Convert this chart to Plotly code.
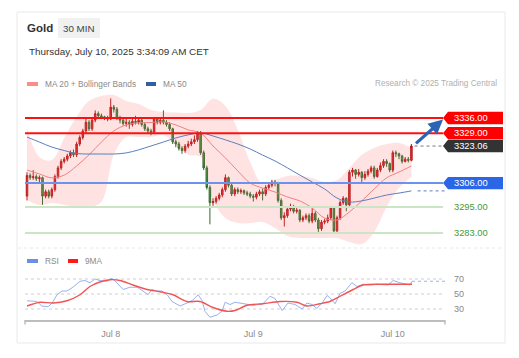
import plotly.graph_objects as go

W, H = 519, 358
OFF = 8  # default page body margin of the html page

# ---------------- data ----------------
candle_close = [
    3309.5, 3308.5, 3309, 3308, 3308.5, 3300, 3302, 3300, 3303, 3309,
    3313, 3316, 3317, 3318.5, 3320, 3319, 3324, 3327, 3330, 3334,
    3331, 3335, 3338, 3337, 3336.5, 3336, 3335.5, 3341, 3340, 3336,
    3335, 3333.5, 3334, 3333, 3334.5, 3334, 3335, 3333, 3331, 3330,
    3329.5, 3335.5, 3334, 3335, 3334, 3333, 3331, 3325, 3324, 3322,
    3321, 3323, 3324, 3325, 3326, 3329, 3320, 3313, 3304, 3297,
    3297.5, 3299, 3300.5, 3303, 3308.5, 3305, 3301, 3303, 3302, 3302.5,
    3301.5, 3301, 3300, 3299.5, 3301, 3302, 3301, 3304, 3305, 3306.5,
    3306, 3298, 3290, 3291, 3294, 3295, 3293, 3293.5, 3289, 3290,
    3291, 3288.5, 3292, 3289, 3285, 3288, 3288.5, 3290, 3294.5, 3284,
    3290, 3297, 3299, 3296, 3311, 3312, 3310, 3311, 3308.5, 3310,
    3311.5, 3313, 3309, 3312, 3314, 3316, 3315, 3312, 3320, 3319.5,
    3318.5, 3316, 3317, 3316.5, 3323.06,
]
candle_high = [
    3311, 3310.5, 3312, 3310, 3309.5, 3309, 3303, 3303, 3304, 3310,
    3314, 3317, 3318, 3319.5, 3321, 3321.5, 3325, 3328, 3331, 3336,
    3335, 3336, 3339.5, 3339, 3338, 3337, 3337, 3345, 3342, 3341,
    3337, 3336, 3335.5, 3335, 3336, 3337, 3336, 3335.5, 3334, 3332,
    3331, 3336, 3336, 3336, 3339.5, 3335, 3334, 3331.5, 3326, 3325,
    3323, 3324, 3325.5, 3326.5, 3328, 3330, 3330, 3321, 3314, 3305,
    3299, 3300, 3301.5, 3304, 3310, 3309, 3306, 3304, 3304, 3303.5,
    3303, 3302.5, 3302, 3301, 3302, 3303, 3303.5, 3305, 3306.5, 3307.5,
    3307.5, 3306.5, 3299, 3292.5, 3295, 3296.5, 3296, 3294.5, 3294, 3291,
    3292, 3292, 3295, 3293, 3290, 3289, 3289.5, 3291.5, 3295.5, 3295,
    3291, 3298, 3300, 3299.5, 3312, 3313, 3312.5, 3312.5, 3311.5, 3311.5,
    3312.5, 3314, 3314, 3313, 3315.5, 3317, 3317, 3315.5, 3321, 3321,
    3320, 3319, 3318, 3318, 3324,
]
candle_low = [
    3298, 3307.5, 3307.5, 3307, 3306.5, 3296, 3299, 3299, 3299, 3302,
    3308, 3312, 3315, 3316, 3317.5, 3318, 3318, 3323, 3326, 3329,
    3330, 3330, 3334, 3336, 3335.5, 3335, 3334.5, 3335, 3338.5, 3335,
    3333.5, 3332.5, 3332, 3331, 3332, 3333, 3333, 3332, 3330, 3329,
    3328, 3329, 3333, 3333, 3333, 3332, 3330, 3324, 3322.5, 3321,
    3319.5, 3320, 3322, 3323, 3324, 3325, 3319, 3312, 3303, 3287,
    3295.5, 3296.5, 3298, 3299.5, 3302, 3304, 3300, 3300, 3301, 3301,
    3300.5, 3300, 3299, 3297.5, 3298.5, 3300, 3298, 3300, 3303, 3304,
    3304.5, 3297, 3289, 3286, 3290, 3293, 3292, 3292, 3288, 3288,
    3289, 3287.5, 3287.5, 3288, 3283.5, 3284, 3287, 3287.5, 3289, 3283,
    3283, 3289, 3296, 3293, 3295, 3309, 3308, 3309, 3306.5, 3307.5,
    3309, 3310.5, 3308, 3308.5, 3311, 3313, 3313.5, 3311, 3311, 3318,
    3317, 3315, 3315.5, 3315.5, 3316,
]
first_open = 3300.0
candle_open = [first_open] + candle_close[:-1]
candle_idx = list(range(len(candle_close)))

# indicator samples
ind_idx = [0, 4, 8, 12, 16, 20, 24, 28, 32, 36, 40, 44, 48, 52, 56, 60,
           64, 68, 72, 76, 80, 84, 88, 92, 96, 100, 104, 108, 112, 116, 120, 124]
bb_upper = [3331.4, 3318, 3316.6, 3326.8, 3336.5, 3343.8, 3346.1, 3346.6,
            3343.8, 3342.4, 3339.7, 3338.8, 3338.5, 3338.3, 3339.7, 3344.8,
            3341.5, 3330.5, 3315.7, 3305.6, 3307.4, 3309.3, 3309.3, 3308.4,
            3306.5, 3307.4, 3313, 3319, 3322.2, 3324, 3324.5, 3322.2]
bb_lower = [3298.2, 3295.9, 3296.8, 3295.9, 3295, 3295, 3297.3, 3319,
            3327.2, 3327.2, 3327.2, 3328.2, 3323.6, 3319, 3318, 3298.2,
            3289.9, 3287.6, 3287.6, 3288.1, 3285.3, 3281.6, 3280.7, 3280.7,
            3280.7, 3280.7, 3278.9, 3277.9, 3283.5, 3295, 3303.7, 3308.8]
ma20 = [3312, 3310.2, 3308.4, 3309.7, 3313.9, 3319, 3324.9, 3330,
        3332.8, 3333.7, 3333.9, 3334.2, 3332.8, 3330.5, 3329.1, 3323.1,
        3317.6, 3311.6, 3306, 3303.7, 3301.9, 3299.6, 3297.8, 3294.5,
        3289.9, 3289, 3292.7, 3297.8, 3303.3, 3308.4, 3311.1, 3313.9]
ma50 = [3327.2, 3324.9, 3322.6, 3321, 3319.6, 3319.4, 3319.4, 3319.4,
        3319.9, 3321.3, 3323.1, 3324.9, 3326.8, 3328.2, 3329.1, 3327.7,
        3325.9, 3324, 3321.7, 3318.9, 3316.2, 3313, 3309.7, 3306.5,
        3303.3, 3299.1, 3297.3, 3297.8, 3299.1, 3300.5, 3301.4, 3302.4]

rsi_idx = [0, 3.2, 4.8, 6.8, 8.1, 9.7, 11.3, 12.9, 14.8, 17.1, 18.7, 20.3,
           21.9, 23.5, 25.8, 27.4, 29, 31, 33.2, 35.5, 37.4, 39, 40.3, 41.9,
           43.5, 45.2, 46.8, 49.4, 51.6, 53.5, 55.2, 56.5, 57.4, 59, 61.3,
           62.9, 63.9, 65.5, 67.1, 69.7, 72.9, 76.1, 78.4, 80, 82.3, 84.2,
           86.5, 88.7, 90.3, 91.9, 93.5, 95.2, 96.8, 97.7, 99.4, 101, 102.6,
           104.8, 106.5, 108.4, 110.6, 112.9, 114.8, 116.5, 118.1, 120.3,
           122.6, 123.5, 124.2]
rsi_vals = [41, 40, 34, 33, 38, 49, 54, 54, 59, 67, 68, 65,
            70, 68, 67, 71, 65, 56, 59, 59, 54, 49, 56, 54,
            54, 49, 40, 34, 38, 42, 49, 41, 27, 19, 22,
            27, 39, 36, 39, 37, 35, 37, 47, 44, 28, 38,
            36, 30, 38, 36, 31, 38, 48, 45, 37, 51, 54,
            65, 60, 63, 62, 63, 62, 62, 68, 65,
            63, 62, 67]
rsi_ma_idx = [0, 4.2, 8.4, 12.9, 17.1, 20.3, 23.5, 26.8, 30, 34.2, 38.7, 42.9,
              47.1, 51.6, 55.8, 60, 64.5, 67.1, 71, 76.1, 81.6, 87.1, 90.3,
              94.5, 97.7, 101, 105.2, 108.4, 113.9, 119.4, 124.2]
rsi_ma_vals = [34, 39, 38, 41, 49, 60, 66, 69, 68, 62, 56, 53,
               49, 40, 40, 32, 27, 28, 35, 37, 40, 39, 34,
               37, 40, 47, 56, 62, 63, 63, 63]

tick_idx = [27, 73, 118]
tick_labels = ["Jul 8", "Jul 9", "Jul 10"]

resistances = [3336.00, 3329.00]
pivot = 3306.00
supports = [3295.00, 3283.00]
last_price = candle_close[-1]
target = 3335.3
rsi_levels = [70, 50, 30]

# ---------------- layout helpers (page pixel -> paper) ----------------
FW, FH = W - OFF, H - OFF

def px(x):
    return (x - OFF) / FW

def py(y):
    return 1 - (y - OFF) / FH

FONT = "Arial, Liberation Sans, sans-serif"
X0, X1 = 25, 445
XR = [-0.65, 134.84]

fig = go.Figure()

# Bollinger band
fig.add_trace(go.Scatter(x=ind_idx, y=bb_upper, mode="lines", line=dict(width=0, shape="spline", smoothing=1.0),
                         hoverinfo="skip", showlegend=False, xaxis="x", yaxis="y"))
fig.add_trace(go.Scatter(x=ind_idx, y=bb_lower, mode="lines", line=dict(width=0, shape="spline", smoothing=1.0),
                         fill="tonexty", fillcolor="rgba(255,100,100,0.18)",
                         hoverinfo="skip", showlegend=False, xaxis="x", yaxis="y"))
fig.add_trace(go.Scatter(x=ind_idx, y=ma20, mode="lines", line=dict(width=1, color="#f28080", shape="spline"),
                         showlegend=False, xaxis="x", yaxis="y"))
fig.add_trace(go.Scatter(x=ind_idx, y=ma50, mode="lines", line=dict(width=1, color="#5b7fbf", shape="spline"),
                         showlegend=False, xaxis="x", yaxis="y"))

fig.add_trace(go.Candlestick(
    x=candle_idx, open=candle_open, high=candle_high, low=candle_low, close=candle_close,
    increasing=dict(line=dict(color="#b31717", width=1), fillcolor="#e8262b"),
    decreasing=dict(line=dict(color="#2d6b2d", width=1), fillcolor="#44a044"),
    whiskerwidth=0, showlegend=False, xaxis="x", yaxis="y"))

# RSI panel
fig.add_trace(go.Scatter(x=rsi_idx, y=rsi_vals, mode="lines", line=dict(width=1, color="#9ab0f0"),
                         showlegend=False, xaxis="x2", yaxis="y2"))
fig.add_trace(go.Scatter(x=rsi_ma_idx, y=rsi_ma_vals, mode="lines",
                         line=dict(width=1.4, color="#f25353", shape="spline", smoothing=0.8),
                         showlegend=False, xaxis="x2", yaxis="y2"))

shapes = []
# card
shapes.append(dict(type="rect", xref="paper", yref="paper", x0=px(17), x1=px(505), y0=py(343), y1=py(12),
                   line=dict(color="#e9e9e9", width=1), fillcolor="rgba(0,0,0,0)", layer="below"))
shapes.append(dict(type="line", xref="paper", yref="paper", x0=px(18), x1=px(504), y0=py(248), y1=py(248),
                   line=dict(color="#e6e6e6", width=1, dash="dot")))
# badge
shapes.append(dict(type="rect", xref="paper", yref="paper", x0=px(58), x1=px(100), y0=py(38), y1=py(18),
                   line=dict(width=0), fillcolor="#f1f1f1", layer="below"))
# legend swatches
for (a, b, yy, col) in [(27, 38, 84, "#ff8a8a"), (146, 156, 84, "#30609f"),
                        (27, 38, 261, "#6b8fe8"), (68, 78, 261, "#ff1a1a")]:
    shapes.append(dict(type="rect", xref="paper", yref="paper", x0=px(a), x1=px(b), y0=py(yy + 2), y1=py(yy - 2),
                       line=dict(width=0), fillcolor=col))

# level lines
for lv in resistances:
    shapes.append(dict(type="line", xref="paper", yref="y", x0=px(X0), x1=px(443), y0=lv, y1=lv,
                       line=dict(color="#ff1010", width=2)))
shapes.append(dict(type="line", xref="paper", yref="y", x0=px(X0), x1=px(443), y0=pivot, y1=pivot,
                   line=dict(color="#6b93ee", width=2)))
for lv in supports:
    shapes.append(dict(type="line", xref="paper", yref="y", x0=px(X0), x1=px(443), y0=lv, y1=lv,
                       line=dict(color="#cce5c6", width=2)))

# dotted extensions
shapes.append(dict(type="line", xref="x", yref="y", x0=candle_idx[-1] + 1, x1=XR[1], y0=last_price, y1=last_price,
                   line=dict(color="#777777", width=1, dash="dot")))
shapes.append(dict(type="line", xref="x", yref="y", x0=ind_idx[-1] + 2, x1=XR[1], y0=ma50[-1], y1=ma50[-1],
                   line=dict(color="#5b7fbf", width=1, dash="dot")))
shapes.append(dict(type="line", xref="x2", yref="y2", x0=rsi_idx[-1], x1=XR[1], y0=rsi_vals[-1], y1=rsi_vals[-1],
                   line=dict(color="#9ab0f0", width=1, dash="dot")))

# RSI grid
for lv in rsi_levels:
    shapes.append(dict(type="line", xref="paper", yref="y2", x0=px(X0), x1=px(X1), y0=lv, y1=lv,
                       line=dict(color="#cfcfcf", width=1, dash="dot"), layer="below"))
# axis end ticks
for xx in (X0, X1):
    shapes.append(dict(type="line", xref="paper", yref="paper", x0=px(xx), x1=px(xx), y0=py(320), y1=py(324.5),
                       line=dict(color="#bdbdbd", width=1.5)))

# price tags
tag_path = "M0,0 L5,6.2 L60,6.2 L60,-6.2 L5,-6.2 Z"
tags = [(resistances[0], "#ff0000", "#ffffff"), (resistances[1], "#ff0000", "#ffffff"),
        (last_price, "#333333", "#ffffff"), (pivot, "#2b66e6", "#ffffff")]
for lv, bg, fg in tags:
    shapes.append(dict(type="path", xref="paper", yref="y", xsizemode="pixel", ysizemode="pixel",
                       xanchor=px(443), yanchor=lv, path=tag_path, fillcolor=bg, line=dict(width=0)))

annotations = []
def txt(x, y, s, size, color, anchor="left", bold=False, yref="paper"):
    annotations.append(dict(x=x, y=y, xref="paper", yref=yref, text=("<b>%s</b>" % s) if bold else s,
                            showarrow=False, xanchor=anchor, yanchor="middle",
                            font=dict(family=FONT, size=size, color=color)))

txt(px(25), py(28), "Gold", 11.5, "#333333", bold=True)
txt(px(79), py(28), "30 MIN", 9.8, "#444444", anchor="center")
txt(px(26.5), py(52), "Thursday, July 10, 2025 3:34:09 AM CET", 9.9, "#333333")
txt(px(42.5), py(84), "MA 20 + Bollinger Bands", 8.3, "#8a8a8a")
txt(px(161), py(84), "MA 50", 8.3, "#8a8a8a")
txt(px(498.5), py(84), "Research © 2025 Trading Central", 8.2, "#b0b0b0", anchor="right")
txt(px(42.5), py(261), "RSI", 8.3, "#8a8a8a")
txt(px(83), py(261), "9MA", 8.3, "#8a8a8a")

for lv, bg, fg in tags:
    txt(px(451.5), lv, "%.2f" % lv, 9.3, fg, yref="y")
for lv in supports:
    txt(px(451.5), lv, "%.2f" % lv, 9.3, "#3d9b3d", yref="y")
for lv in rsi_levels:
    txt(px(452), lv, str(lv), 9, "#888888", yref="y2")

# forecast arrow
annotations.append(dict(x=134.2, y=target, xref="x", yref="y", ax=candle_idx[-1] + 1, ay=last_price + 0.6,
                        axref="x", ayref="y", showarrow=True, arrowhead=2, arrowsize=0.9, arrowwidth=3.2,
                        arrowcolor="#2c63b3", text=""))

fig.update_layout(
    width=FW, height=FH, margin=dict(l=0, r=0, t=0, b=0),
    paper_bgcolor="#ffffff", plot_bgcolor="rgba(0,0,0,0)",
    showlegend=False, hovermode=False,
    font=dict(family=FONT),
    xaxis=dict(domain=[px(X0), px(X1)], range=XR, visible=False, rangeslider=dict(visible=False), fixedrange=True),
    yaxis=dict(domain=[py(248), py(88)], range=[3276.1, 3349.8], visible=False, fixedrange=True),
    xaxis2=dict(domain=[px(X0), px(X1)], range=XR, anchor="y2", showgrid=False, zeroline=False,
                showline=True, linecolor="#bdbdbd", linewidth=2,
                tickmode="array", tickvals=tick_idx, ticktext=tick_labels,
                ticks="outside", ticklen=4, tickcolor="rgba(0,0,0,0)",
                tickfont=dict(family=FONT, size=9, color="#8a8a8a")),
    yaxis2=dict(domain=[py(320), py(272)], range=[15.33, 79.33], visible=False, fixedrange=True),
    shapes=shapes, annotations=annotations,
)

fig.write_html("out.html")
